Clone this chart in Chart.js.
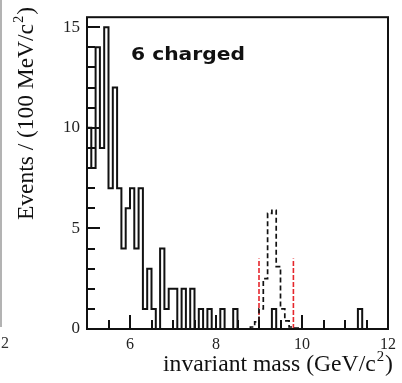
<!DOCTYPE html>
<html>
<head>
<meta charset="utf-8">
<script src="https://cdn.jsdelivr.net/npm/chart.js@4.4.1/dist/chart.umd.min.js"></script>
<style>
  html, body { margin: 0; padding: 0; background: #fff; }
  #wrap { position: relative; width: 402px; height: 383px; }
</style>
</head>
<body>
<div id="wrap"><canvas id="chart" width="402" height="383"></canvas></div>
<script>
// ==== data ====
const MASS_MIN  = 5.0;   // GeV/c^2, left edge of the first bin
const MASS_MAX  = 12.0;
const BIN_WIDTH = 0.1;   // 100 MeV bins

// data: events per bin, 5.0 .. 11.9
const eventCounts = [
  11, 10,  8, 14,  9, 15,  7, 12,  7,  4,
   6,  7,  4,  7,  1,  3,  1,  0,  4,  1,
   2,  2,  0,  2,  0,  2,  0,  1,  0,  1,
   0,  0,  1,  0,  0,  1,  0,  0,  0,  0,
   0,  0,  0,  0,  1,  0,  0,  0,  0,  0,
   0,  0,  0,  0,  0,  0,  0,  0,  0,  0,
   0,  0,  0,  0,  1,  0,  0,  0,  0,  0
];

// signal MC shape (dashed), bins from 8.8
const SIGNAL_START = 8.8;
const signalCounts = [0.05, 0.1, 0.35, 1.0, 2.5, 5.75, 5.9, 3.1, 1.0, 0.4, 0.1, 0.05];

// mass window cut (red dashed)
const windowEdges  = [9.0, 9.8];
const WINDOW_TOP   = 3.5;

const xTickLabels = [6, 8, 10, 12];
const yTickLabels = [0, 5, 10, 15];
const Y_MAX = 15.5;

// bin contents -> step outline points
function histPoints(start, counts) {
  const pts = [{ x: start, y: 0 }];
  counts.forEach((c, i) => pts.push({ x: +(start + i * BIN_WIDTH).toFixed(2), y: c }));
  const end = +(start + counts.length * BIN_WIDTH).toFixed(2);
  pts.push({ x: end, y: counts[counts.length - 1] });
  pts.push({ x: end, y: 0 });
  return pts;
}

// draws "before" + superscript + "after" starting at (0,0), returns width
function drawWithSup(ctx, before, sup, after, size, family, doDraw) {
  ctx.font = `${size}px ${family}`;
  const w1 = ctx.measureText(before).width;
  const w3 = ctx.measureText(after).width;
  ctx.font = `${Math.round(size * 0.62)}px ${family}`;
  const w2 = ctx.measureText(sup).width;
  if (doDraw) {
    ctx.font = `${size}px ${family}`;
    ctx.fillText(before, 0, 0);
    ctx.font = `${Math.round(size * 0.62)}px ${family}`;
    ctx.fillText(sup, w1 + 1, -size * 0.42);
    ctx.font = `${size}px ${family}`;
    ctx.fillText(after, w1 + w2 + 2, 0);
  }
  return w1 + w2 + 2 + w3;
}

// ticks inside the frame, frame box, titles
const decorations = {
  id: "decorations",
  afterDatasetsDraw(chart) {
    const { ctx, chartArea: a, scales: { x, y } } = chart;
    ctx.save();
    ctx.strokeStyle = "#111";
    ctx.lineWidth = 2;
    ctx.beginPath();
    for (let v = 5.5; v < MASS_MAX; v += 0.5) {
      const px = Math.round(x.getPixelForValue(v));
      const len = xTickLabels.includes(v) ? 14 : 9;
      ctx.moveTo(px, a.bottom); ctx.lineTo(px, a.bottom - len);
    }
    for (let v = 1; v <= 15; v++) {
      const py = Math.round(y.getPixelForValue(v));
      const len = yTickLabels.includes(v) ? 13 : 8;
      ctx.moveTo(a.left, py); ctx.lineTo(a.left + len, py);
    }
    ctx.stroke();
    ctx.strokeRect(a.left, a.top, a.right - a.left, a.bottom - a.top);
    ctx.restore();
  },
  afterDraw(chart) {
    const { ctx } = chart;
    const serif = '"Liberation Serif", "Times New Roman", serif';
    ctx.save();
    ctx.fillStyle = "#111";
    ctx.textBaseline = "alphabetic";
    ctx.textAlign = "left";

    // x title
    ctx.save();
    const wx = drawWithSup(ctx, "invariant mass (GeV/c", "2", ")", 24, serif, false);
    ctx.translate(163, 371);
    ctx.scale(230 / wx, 1);
    drawWithSup(ctx, "invariant mass (GeV/c", "2", ")", 24, serif, true);
    ctx.restore();

    // y title
    ctx.save();
    const wy = drawWithSup(ctx, "Events / (100 MeV/c", "2", ")", 24, serif, false);
    ctx.translate(33, 220);
    ctx.rotate(-Math.PI / 2);
    ctx.scale(213 / wy, 1);
    drawWithSup(ctx, "Events / (100 MeV/c", "2", ")", 24, serif, true);
    ctx.restore();

    // sample label
    ctx.save();
    ctx.font = 'bold 17px "DejaVu Sans", sans-serif';
    const wl = ctx.measureText("6 charged").width;
    ctx.translate(131, 60);
    ctx.scale(114 / wl, 1);
    ctx.fillText("6 charged", 0, 0);
    ctx.restore();

    // edge of the neighbouring panel
    ctx.strokeStyle = "#9a9a9a";
    ctx.lineWidth = 1.5;
    ctx.beginPath();
    ctx.moveTo(1, 0); ctx.lineTo(1, 327);
    ctx.stroke();
    ctx.fillStyle = "#333";
    ctx.font = '16px ' + serif;
    ctx.fillText("2", 1, 348);
    ctx.restore();
  }
};

const windowSets = windowEdges.map(m => ({
  data: [{ x: m, y: 0 }, { x: m, y: WINDOW_TOP }],
  borderColor: "#e5262c",
  borderWidth: 1.6,
  borderDash: [5, 2],
  pointRadius: 0,
  fill: false
}));

new Chart(document.getElementById("chart").getContext("2d"), {
  type: "line",
  data: {
    datasets: [
      {
        data: histPoints(MASS_MIN, eventCounts),
        stepped: "after",
        borderColor: "#111",
        borderWidth: 2,
        pointRadius: 0,
        fill: false
      },
      {
        data: histPoints(SIGNAL_START, signalCounts),
        stepped: "after",
        borderColor: "#111",
        borderWidth: 1.7,
        borderDash: [5, 3],
        pointRadius: 0,
        fill: false
      },
      ...windowSets
    ]
  },
  options: {
    responsive: false,
    animation: false,
    events: [],
    layout: { padding: { left: 0, right: 10, top: 7, bottom: 0 } },
    plugins: { legend: { display: false }, tooltip: { enabled: false } },
    scales: {
      x: {
        type: "linear",
        min: MASS_MIN,
        max: MASS_MAX,
        afterBuildTicks: s => { s.ticks = xTickLabels.map(v => ({ value: v })); },
        afterFit: s => { s.height = 54; },
        grid: { display: false, drawTicks: false },
        border: { display: false },
        ticks: {
          autoSkip: false, maxRotation: 0, padding: 6, color: "#222",
          font: { family: '"Liberation Serif", serif', size: 16 }
        }
      },
      y: {
        type: "linear",
        min: 0,
        max: Y_MAX,
        afterBuildTicks: s => { s.ticks = yTickLabels.map(v => ({ value: v })); },
        afterFit: s => { s.width = 87; },
        grid: { display: false, drawTicks: false },
        border: { display: false },
        ticks: {
          autoSkip: false, padding: 7, color: "#222",
          font: { family: '"Liberation Serif", serif', size: 17 }
        }
      }
    }
  },
  plugins: [decorations]
});
</script>
</body>
</html>
